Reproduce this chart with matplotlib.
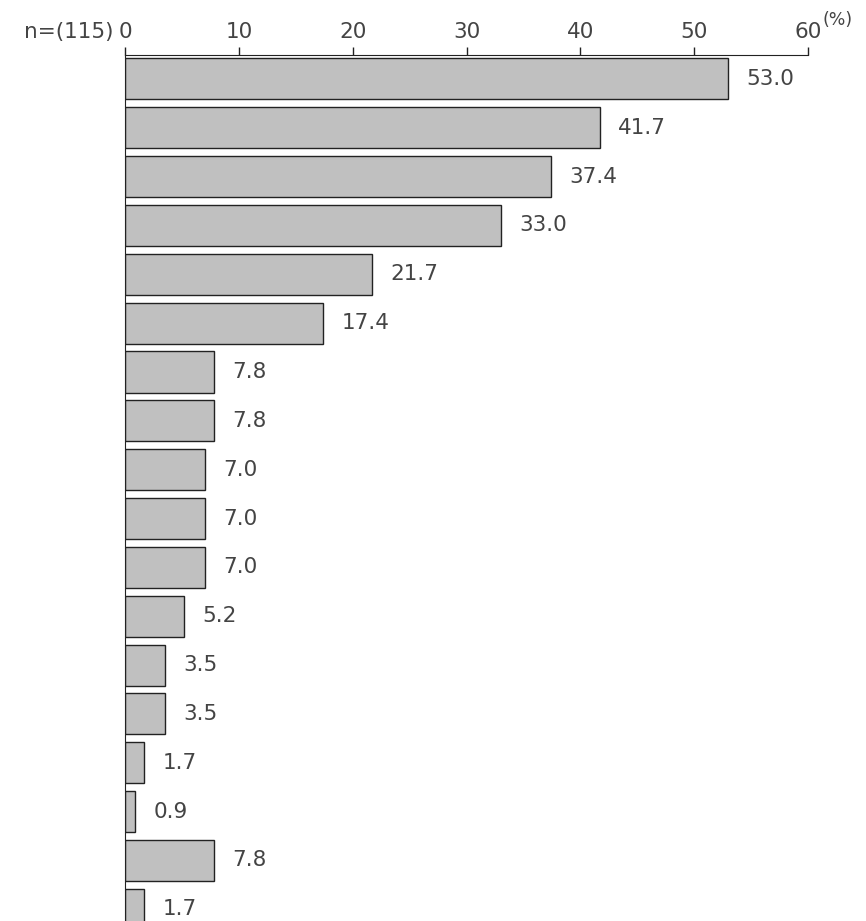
import matplotlib.pyplot as plt

plt.rcParams['font.family'] = ['DejaVu Sans']

values = [53.0, 41.7, 37.4, 33.0, 21.7, 17.4, 7.8, 7.8, 7.0, 7.0, 7.0, 5.2, 3.5, 3.5, 1.7, 0.9, 7.8, 1.7]
ticks = [0, 10, 20, 30, 40, 50, 60]
n_label = 'n=(115)'

fig = plt.figure(figsize=(8.66, 9.21), dpi=100)
ax = fig.add_axes([125 / 866, 0, (808 - 125) / 866, (921 - 55) / 921])

pos = list(range(len(values)))
ax.barh(pos, values, height=0.84, color='#c0c0c0', edgecolor='#222222', linewidth=1.0)
for p, v in zip(pos, values):
    ax.text(v + 1.6, p, '%.1f' % v, va='center', ha='left', fontsize=15.5, color='#444444')

ax.set_xlim(0, 60)
ax.set_ylim(17.24, -0.49)
ax.xaxis.tick_top()
ax.set_xticks(ticks)
ax.set_xticklabels([str(t) for t in ticks])
ax.tick_params(axis='x', direction='out', length=6, width=1, colors='#222222',
               labelcolor='#444444', labelsize=15.5, pad=3)
ax.set_yticks([])
for s in ['right', 'bottom']:
    ax.spines[s].set_visible(False)
ax.spines['top'].set_color('#222222')
ax.spines['left'].set_color('#222222')

fig.text(113 / 866, 1 - 32 / 921, n_label, ha='right', va='center', fontsize=15.5, color='#444444')
fig.text(823 / 866, 1 - 20 / 921, '(%)', ha='left', va='center', fontsize=12.5, color='#444444')

fig.savefig('out.png', dpi=100)
